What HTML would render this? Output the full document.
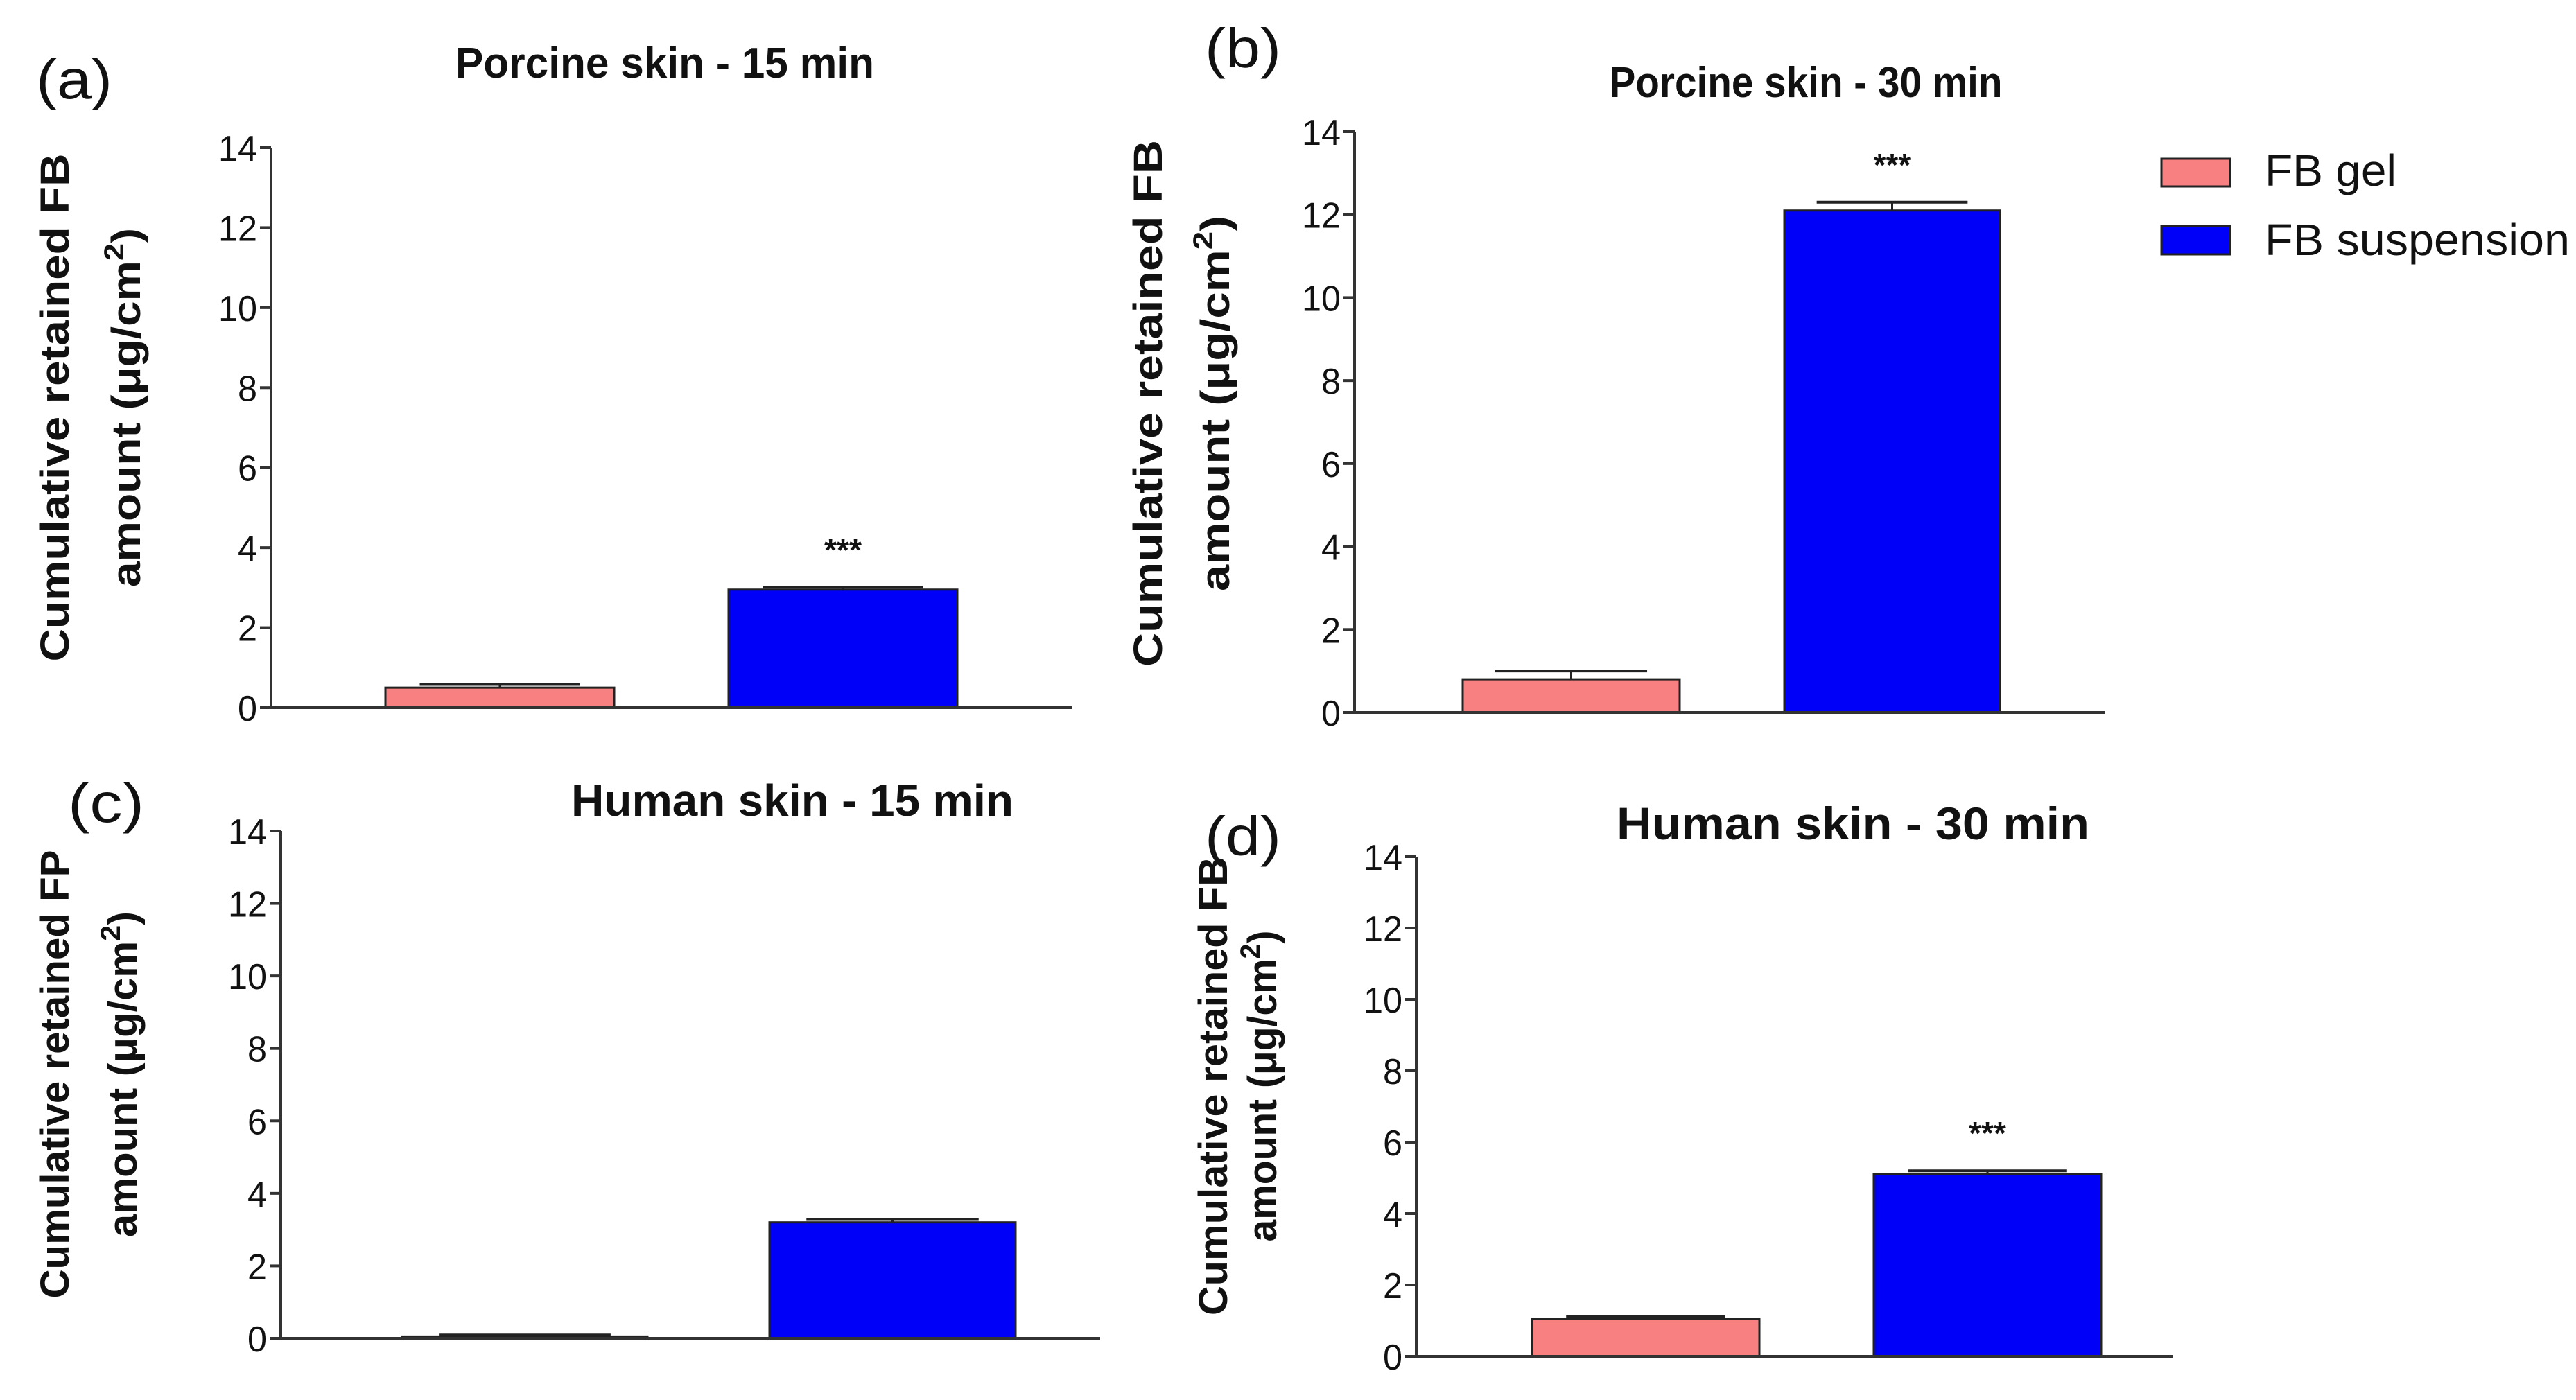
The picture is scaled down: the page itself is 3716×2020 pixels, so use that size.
<!DOCTYPE html>
<html><head><meta charset="utf-8"><style>
html,body{margin:0;padding:0;background:#fff;}
svg{display:block;}
text{font-family:"Liberation Sans",sans-serif;fill:#111;}
</style></head><body>
<svg id="fig" width="3716" height="2020" viewBox="0 0 3716 2020" xmlns="http://www.w3.org/2000/svg">
<g id="legend">
<rect x="3118" y="229" width="99" height="40" fill="#f88080" stroke="#222" stroke-width="3"/>
<text x="3267" y="268" font-size="64" textLength="190" lengthAdjust="spacingAndGlyphs">FB gel</text>
<rect x="3118" y="326" width="99" height="41" fill="#0000f8" stroke="#222" stroke-width="3"/>
<text x="3267" y="368" font-size="64" textLength="440" lengthAdjust="spacingAndGlyphs">FB suspension</text>
</g>
</svg>
<script>
const categories = ["FB gel", "FB suspension"];
const panelTitles = ["Porcine skin -  15 min", "Porcine skin -  30 min", "Human skin -  15 min", "Human skin -  30 min"];
const panelLetters = ["(a)", "(b)", "(c)", "(d)"];
const yLabelLine1 = ["Cumulative retained FB", "Cumulative retained FB", "Cumulative retained FP", "Cumulative retained FB"];
const valuesA = [0.5, 2.95];
const valuesB = [0.8, 12.1];
const valuesC = [0.05, 3.2];
const valuesD = [1.05, 5.1];
const errorsA = [0.08, 0.06];
const errorsB = [0.2, 0.2];
const errorsC = [0.04, 0.08];
const errorsD = [0.06, 0.1];
const starsA = [false, true];
const starsB = [false, true];
const starsC = [false, false];
const starsD = [false, true];
const yTicks = [0, 2, 4, 6, 8, 10, 12, 14];
const yMax = 14;

const NS = "http://www.w3.org/2000/svg";
const svg = document.getElementById('fig');
function mk(tag, attrs, parent){
  const e = document.createElementNS(NS, tag);
  for (const k in attrs) e.setAttribute(k, attrs[k]);
  (parent||svg).appendChild(e);
  return e;
}
const layouts = [
  {ax:391, y14:213, y0:1021, xend:1546, bars:[[556,886],[1051,1381]], tx:959, ty:112, tw:604, tfs:62,
   lx:52, ly:142, lbl1x:77, lbl2x:184, lblc:588, l1w:733, l2w:518},
  {ax:1954, y14:190, y0:1028, xend:3037, bars:[[2110,2423],[2574,2885]], tx:2605, ty:140, tw:567, tfs:62,
   lx:1738, ly:97, lbl1x:1654, lbl2x:1755, lblc:582, l1w:760, l2w:542},
  {ax:405, y14:1199, y0:1931, xend:1587, bars:[[580,934],[1110,1465]], tx:1143, ty:1177, tw:638, tfs:64,
   lx:98, ly:1186, lbl1x:77, lbl2x:179, lblc:1550, l1w:647, l2w:470},
  {ax:2043, y14:1236, y0:1957, xend:3134, bars:[[2210,2538],[2703,3031]], tx:2673, ty:1211, tw:682, tfs:66,
   lx:1738, ly:1234, lbl1x:1748, lbl2x:1823, lblc:1567, l1w:662, l2w:449}
];
const allValues = [valuesA, valuesB, valuesC, valuesD];
const allErrors = [errorsA, errorsB, errorsC, errorsD];
const allStars = [starsA, starsB, starsC, starsD];
const names = ['a','b','c','d'];

layouts.forEach((L, p) => {
  const g = mk('g', {});
  
  
  const y = v => L.y0 - (v / yMax) * (L.y0 - L.y14);
  const lt = mk('text', {x:L.lx, y:L.ly, 'font-size':80, textLength:110, lengthAdjust:'spacingAndGlyphs'}, g);
  lt.textContent = panelLetters[p];
  
  
  const tt = mk('text', {x:L.tx - L.tw/2, y:L.ty, 'font-size':L.tfs, 'font-weight':'bold', textLength:L.tw, lengthAdjust:'spacingAndGlyphs'}, g);
  tt.textContent = panelTitles[p];
  
  
  const l1 = mk('text', {x:0, y:0, 'font-size':58, 'font-weight':'bold', 'text-anchor':'middle', textLength:L.l1w, lengthAdjust:'spacingAndGlyphs',
    transform:`translate(${L.lbl1x + 22},${L.lblc}) rotate(-90)`}, g);
  l1.textContent = yLabelLine1[p];
  
  
  const l2 = mk('text', {x:0, y:0, 'font-size':58, 'font-weight':'bold', 'text-anchor':'middle', textLength:L.l2w, lengthAdjust:'spacingAndGlyphs',
    transform:`translate(${L.lbl2x + 18},${L.lblc}) rotate(-90)`}, g);
  l2.innerHTML = 'amount  (μg/cm<tspan dy="-24" font-size="40">2</tspan><tspan dy="24">)</tspan>';
  
  
  const ya = mk('line', {x1:L.ax, y1:L.y14, x2:L.ax, y2:L.y0, stroke:'#333', 'stroke-width':4}, g);
  
  
  yTicks.forEach(t => {
    const ty = y(t);
    const tk = mk('line', {x1:L.ax - 16, y1:ty, x2:L.ax, y2:ty, stroke:'#333', 'stroke-width':4}, g);
    
    
    const s = String(t);
    const tl = mk('text', {x:L.ax - 20, y:ty + 19, 'font-size':52, 'text-anchor':'end', textLength:28*s.length, lengthAdjust:'spacingAndGlyphs', fill:'#222'}, g);
    tl.textContent = s;
    
    
  });
  const vals = allValues[p], errs = allErrors[p], stars = allStars[p];
  vals.forEach((v, i) => {
    const [bx0, bx1] = L.bars[i];
    const bw = bx1 - bx0, cx = (bx0 + bx1)/2;
    const top = y(v), eTop = y(v + errs[i]);
    const eb = mk('line', {x1:cx, y1:top, x2:cx, y2:eTop, stroke:'#222', 'stroke-width':3}, g);
    
    
    const cap = mk('line', {x1:cx - bw*0.35, y1:eTop, x2:cx + bw*0.35, y2:eTop, stroke:'#222', 'stroke-width':4}, g);
    
    
    const r = mk('rect', {x:bx0, y:top, width:bw, height:Math.max(L.y0 - top, 1), fill: i===0 ? '#f88080' : '#0000f8', stroke:'#222', 'stroke-width':3}, g);
    
    
    if (stars[i]) {
      const st = mk('text', {x:cx, y:eTop - 38, 'font-size':46, 'text-anchor':'middle', 'font-weight':'bold'}, g);
      st.textContent = '***';
      
      
    }
  });
  const xa = mk('line', {x1:L.ax, y1:L.y0, x2:L.xend, y2:L.y0, stroke:'#333', 'stroke-width':4}, g);
  
  
});
</script>
</body></html>
